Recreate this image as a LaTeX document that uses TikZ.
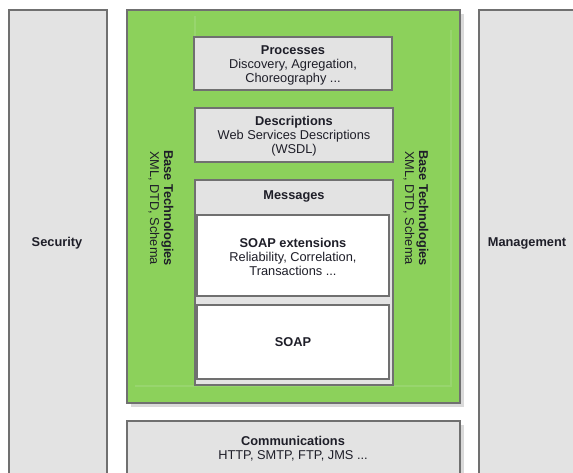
\documentclass[tikz,border=0pt]{standalone}
\usepackage{fontspec}
\setmainfont{Liberation Sans}
\begin{document}
\begin{tikzpicture}[x=0.75pt,y=-0.75pt,
  font=\fontsize{9.6}{10.5}\selectfont,
  panel/.style={draw=edgegray,line width=0.9pt,fill=panelgray},
  inner/.style={draw=edgegray,line width=0.9pt,fill=white},
  lbl/.style={align=center,text=textdark,inner sep=0pt},
  boldlbl/.style={lbl,font=\fontsize{9.6}{10.5}\selectfont\bfseries},
  every node/.style={inner sep=0pt}]
\definecolor{panelgray}{HTML}{E3E3E3}
\definecolor{edgegray}{HTML}{707070}
\definecolor{shadowgray}{HTML}{DADADA}
\definecolor{leafgreen}{HTML}{8CD15B}
\definecolor{faintgreen}{HTML}{98D56E}
\definecolor{textdark}{HTML}{1E1E28}
\useasboundingbox (0,0) rectangle (573,473);
\clip (0,0) rectangle (573,473);
\fill[white] (0,0) rectangle (573,473);

% side columns
\draw[panel] (9,10) rectangle (107,480);
\draw[panel] (479,10) rectangle (580,480);
\node[boldlbl] (security) at (57,243) {Security};
\node[boldlbl] (management) at (527,243) {Management};

% green frame
\fill[shadowgray] (131,14) rectangle (464,407);
\draw[draw=edgegray,line width=0.9pt,fill=leafgreen] (127,10) rectangle (460,403);
\draw[faintgreen,line width=0.8pt] (195,16) -- (195,37);
\draw[faintgreen,line width=0.8pt] (451,30) -- (451,386) -- (135,386);

% base technologies, both sides
\node[lbl,rotate=-90] (basel) at (161,208) {\textbf{Base Technologies}\\XML, DTD, Schema};
\node[lbl,rotate=-90] (baser) at (416,208) {\textbf{Base Technologies}\\XML, DTD, Schema};

% stack
\draw[panel] (194,37) rectangle (392,90);
\node[lbl] (processes) at (293,65) {\textbf{Processes}\\Discovery, Agregation,\\Choreography ...};

\draw[panel] (195,108) rectangle (393,162);
\node[lbl] (descriptions) at (294,136.5) {\textbf{Descriptions}\\Web Services Descriptions\\(WSDL)};

\draw[panel] (195,180) rectangle (393,385);
\node[boldlbl] (messages) at (294,196) {Messages};

\draw[inner] (197,215) rectangle (389,296);
\node[lbl] (soapext) at (293,257) {\textbf{SOAP extensions}\\Reliability, Correlation,\\Transactions ...};

\draw[inner] (197,305) rectangle (389,379);
\node[boldlbl] (soap) at (293,342) {SOAP};

% communications
\fill[shadowgray] (131,425) rectangle (464,480);
\draw[panel] (127,421) rectangle (460,480);
\node[lbl] (comm) at (293,449) {\textbf{Communications}\\HTTP, SMTP, FTP, JMS ...};
\end{tikzpicture}
\end{document}
